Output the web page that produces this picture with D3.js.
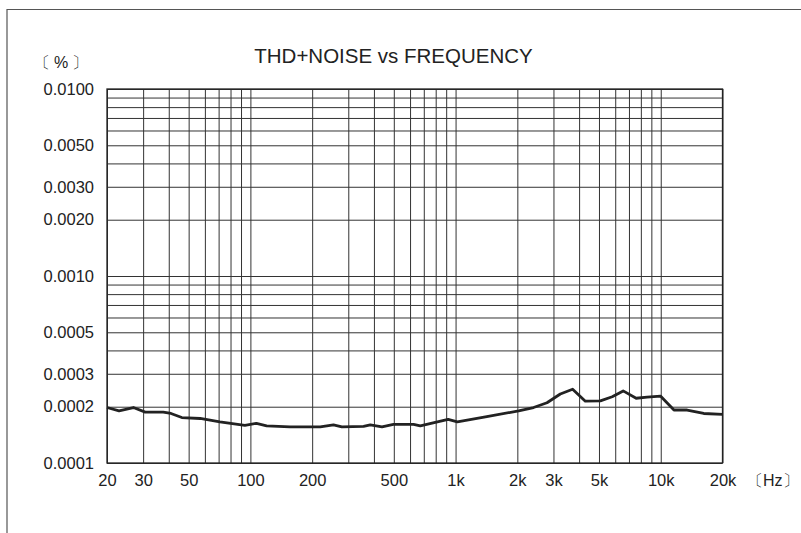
<!DOCTYPE html>
<html>
<head>
<meta charset="utf-8">
<script src="https://cdn.jsdelivr.net/npm/d3@7"></script>
<style>
  html, body { margin: 0; padding: 0; background: #fff; }
  svg { display: block; }
</style>
</head>
<body>
<div id="chart"></div>
<script>
// frequency (Hz) and THD+N (%)
const freqs = [20, 22.9, 26.9, 30.7, 37.6, 41, 46.3, 56.9, 71, 94, 107, 120, 156, 219, 254, 279, 356, 384, 438, 498,
  624, 673, 920, 1020, 1420, 2030, 2400, 2790, 3240, 3720, 4290, 5080, 5800, 6560, 7590, 8580, 9970, 11600, 13450, 16200, 20000];
const thdn = [0.000198, 0.000190, 0.000198, 0.000187, 0.000187, 0.000184, 0.000175, 0.000173, 0.000166, 0.000159, 0.000163, 0.000158, 0.000156, 0.000156, 0.000160, 0.000156, 0.000157, 0.000160, 0.000156, 0.000161,
  0.000161, 0.000158, 0.000171, 0.000166, 0.000177, 0.000190, 0.000198, 0.000210, 0.000234, 0.000248, 0.000214, 0.000215, 0.000226, 0.000243, 0.000222, 0.000225, 0.000228, 0.000192, 0.000192, 0.000184, 0.000182];

const xGrid = [20, 30, 40, 50, 60, 70, 80, 90, 100, 200, 300, 400, 500, 600, 700, 800, 900, 1000,
  2000, 3000, 4000, 5000, 6000, 7000, 8000, 9000, 10000, 20000];
const xTicks = [20, 30, 50, 100, 200, 500, 1000, 2000, 3000, 5000, 10000, 20000];
const xTickLabels = ["20", "30", "50", "100", "200", "500", "1k", "2k", "3k", "5k", "10k", "20k"];
const yGrid = [0.0001, 0.0002, 0.0003, 0.0004, 0.0005, 0.0006, 0.0007, 0.0008, 0.0009,
  0.001, 0.002, 0.003, 0.004, 0.005, 0.006, 0.007, 0.008, 0.009, 0.01];
const yTicks = [0.0001, 0.0002, 0.0003, 0.0005, 0.001, 0.002, 0.003, 0.005, 0.01];

(function(){
  const W = 801, H = 533;
  const plot = {left: 107, right: 722.5, top: 89, bottom: 463};
  const font = "'Liberation Sans', Arial, Helvetica, sans-serif";

  const svg = d3.select("#chart").append("svg")
    .attr("width", W).attr("height", H)
    .attr("font-family", font);

  // outer frame (only top and left edges visible)
  svg.append("path")
    .attr("d", `M7,${H} L7,9.5 L${W},9.5`)
    .attr("fill", "none").attr("stroke", "#555").attr("stroke-width", 1.2);

  const x = d3.scaleLog().domain([20, 20000]).range([plot.left, plot.right]);
  const y = d3.scaleLog().domain([0.0001, 0.01]).range([plot.bottom, plot.top]);

  // grid
  const gx = svg.append("g")
    .attr("transform", `translate(0,${plot.bottom})`)
    .call(d3.axisBottom(x).tickValues(xGrid).tickSize(-(plot.bottom - plot.top)).tickFormat(""));
  const gy = svg.append("g")
    .attr("transform", `translate(${plot.left},0)`)
    .call(d3.axisLeft(y).tickValues(yGrid).tickSize(-(plot.right - plot.left)).tickFormat(""));
  [gx, gy].forEach(g => {
    g.select(".domain").remove();
    g.selectAll(".tick line").attr("stroke", "#333").attr("stroke-width", 1);
  });

  // plot border
  svg.append("rect")
    .attr("x", plot.left).attr("y", plot.top)
    .attr("width", plot.right - plot.left).attr("height", plot.bottom - plot.top)
    .attr("fill", "none").attr("stroke", "#222").attr("stroke-width", 1.3);

  // tick labels
  const xAxis = svg.append("g")
    .attr("transform", `translate(0,${plot.bottom})`)
    .call(d3.axisBottom(x).tickValues(xTicks).tickSize(0).tickPadding(11)
      .tickFormat((d, i) => xTickLabels[i]));
  xAxis.select(".domain").remove();
  xAxis.selectAll("text")
    .attr("font-family", font).attr("font-size", 16.5).attr("fill", "#222");

  const yAxis = svg.append("g")
    .attr("transform", `translate(${plot.left},0)`)
    .call(d3.axisLeft(y).tickValues(yTicks).tickSize(0).tickPadding(13)
      .tickFormat(d3.format(".4f")));
  yAxis.select(".domain").remove();
  yAxis.selectAll("text")
    .attr("font-family", font).attr("font-size", 16.5).attr("fill", "#222");

  // curve
  const line = d3.line()
    .x((d, i) => x(freqs[i]))
    .y(d => y(d));
  svg.append("path")
    .datum(thdn)
    .attr("d", line)
    .attr("fill", "none")
    .attr("stroke", "#222")
    .attr("stroke-width", 2.8)
    .attr("stroke-linejoin", "round");

  // title and units
  svg.append("text")
    .attr("x", 393.5).attr("y", 63)
    .attr("text-anchor", "middle")
    .attr("font-size", 20.5).attr("fill", "#222")
    .text("THD+NOISE vs FREQUENCY");

  svg.append("text")
    .attr("x", 34).attr("y", 68)
    .attr("font-size", 16).attr("fill", "#222")
    .attr("letter-spacing", 4)
    .text("〔%〕");

  svg.append("text")
    .attr("x", 747).attr("y", 486)
    .attr("font-size", 16).attr("fill", "#222")
    .text("〔Hz〕");
})();
</script>
</body>
</html>
